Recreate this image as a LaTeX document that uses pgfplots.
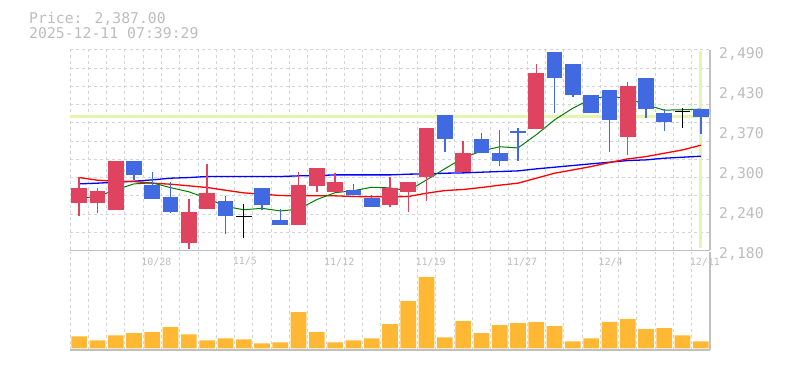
\documentclass[border=0pt]{standalone}
\usepackage{pgfplots}
\pgfplotsset{compat=1.18}
\usepackage{pgfplotstable}
\usepackage{fontspec}
\newfontfamily\mono{DejaVu Sans Mono}
\definecolor{lbl}{HTML}{BDBDBD}
\definecolor{gridc}{HTML}{D4D4D4}
\definecolor{axc}{HTML}{C0C0C0}
\definecolor{cred}{HTML}{E0435F}
\definecolor{cblue}{HTML}{4169E1}
\definecolor{vol}{HTML}{FFB833}
\definecolor{pline}{HTML}{E4F5B0}
\definecolor{magreen}{HTML}{008000}
\definecolor{mared}{HTML}{FF0000}
\definecolor{mablue}{HTML}{0000FF}

% up candles (red)
\pgfplotstableread{
i o h l c
0 2254 2293 2234 2277
1 2253 2277 2238 2272
2 2243 2319 2243 2319
6 2191 2260 2183 2240
7 2244 2313 2244 2269
12 2220 2302 2220 2282
13 2280 2308 2271 2308
14 2271 2300 2271 2286
17 2251 2294 2247 2277
18 2271 2286 2240 2286
19 2293 2370 2257 2370
21 2301 2349 2301 2331
25 2368 2468 2368 2454
30 2355 2441 2327 2434
}\redtab
% down candles (blue)
\pgfplotstableread{
i o h l c
3 2319 2319 2289 2296
4 2281 2302 2259 2259
5 2263 2286 2238 2240
8 2257 2265 2205 2233
10 2277 2277 2242 2251
11 2227 2244 2220 2220
15 2273 2283 2266 2266
16 2261 2266 2247 2247
20 2390 2390 2333 2352
22 2352 2362 2330 2330
23 2331 2366 2310 2319
24 2364 2370 2319 2361
26 2487 2487 2393 2446
27 2468 2468 2418 2420
28 2421 2421 2392 2392
29 2428 2428 2333 2382
31 2447 2447 2385 2399
32 2393 2399 2365 2378
34 2399 2399 2360 2387
}\bluetab
% doji candles
\pgfplotstableread{
i o h l c
9 2233 2252 2200 2233
33 2395 2400 2370 2395
}\dojitab
\pgfplotstableread{
i v
0 2261
1 2263.5
2 2273.8
3 2283
4 2284.6
5 2277.2
6 2270.8
7 2260.8
8 2248.2
9 2243
10 2245.2
11 2241.2
12 2243.8
13 2258.8
14 2269.4
15 2272.4
16 2277.8
17 2276.8
18 2272.4
19 2289.2
20 2306.4
21 2323.2
22 2333.8
23 2340.4
24 2338.6
25 2359
26 2382
27 2400
28 2414.6
29 2418.8
30 2414.8
31 2405.4
32 2397
33 2397.6
34 2398.6
}\magreentab
\pgfplotstableread{
i v
0 2292.8
1 2288.7
2 2287.1
3 2286.6
4 2284.1
5 2282.5
6 2280
7 2277.4
8 2273.2
9 2269.1
10 2267.1
11 2265
12 2264.5
13 2264.5
14 2264.5
15 2263.5
16 2263
17 2263
18 2263.5
19 2268.6
20 2272.7
21 2274.3
22 2277.4
23 2281
24 2284.1
25 2291.8
26 2299.5
27 2304.6
28 2309.8
29 2316
30 2321.6
31 2325.2
32 2330.4
33 2335.5
34 2342.8
}\maredtab
\pgfplotstableread{
i v
0 2283
1 2284.1
2 2285.6
3 2287.1
4 2289.2
5 2291.8
6 2292.8
7 2294.4
8 2294.4
9 2294.4
10 2294.4
11 2294.4
12 2295.4
13 2295.9
14 2296.9
15 2296.9
16 2296.9
17 2296.9
18 2298
19 2298.5
20 2299.5
21 2300
22 2301.1
23 2302.1
24 2303.1
25 2306.2
26 2308.8
27 2311.4
28 2314
29 2316.5
30 2319.1
31 2320.1
32 2322.7
33 2324.2
34 2325.8
}\mabluetab
\pgfplotstableread{
i v
0 12
1 8
2 13
3 15
4 16
5 21
6 14
7 8
8 10
9 9
10 5
11 6
12 36
13 16
14 6
15 8
16 10
17 24
18 47
19 71
20 11
21 27
22 15
23 23
24 25
25 26
26 22
27 7
28 10
29 26
30 29
31 19
32 20
33 13
34 7
}\voltab

\begin{document}
\begin{tikzpicture}
\path[use as bounding box] (0pt,0pt) rectangle (785pt,370pt);

\node[anchor=base west, inner sep=0pt, text=lbl, font=\mono\fontsize{14.8}{16}\selectfont] at (29pt,346.7pt) {Price: 2,387.00};
\node[anchor=base west, inner sep=0pt, text=lbl, font=\mono\fontsize{14.8}{16}\selectfont] at (29pt,331.7pt) {2025-12-11 07:39:29};

% price panel
\begin{axis}[
  at={(70pt,119.5pt)}, anchor=south west, scale only axis,
  width=640pt, height=200.5pt,
  xmin=-0.5, xmax=34.5, ymin=2180, ymax=2490,
  axis x line*=bottom, axis y line*=right,
  axis line style={draw=axc, line width=1.2pt},
  xtick={-0.5,0.5,...,33.5}, xticklabels={},
  ytick={2180,2208.18,2236.36,2264.55,2292.73,2320.91,2349.09,2377.27,2405.45,2433.64,2461.82,2490},
  yticklabels={},
  grid=major,
  major grid style={draw=gridc, line width=1pt, dash pattern=on 3pt off 3pt},
  major tick length=0pt,
  extra x ticks={3.5,8.5,13.5,18.5,23.5,28.5,33.5},
  extra x tick labels={10/28,11/5,11/12,11/19,11/27,12/4,12/11},
  extra x tick style={grid=none, tick label style={anchor=north west, inner sep=0pt, yshift=-7pt, xshift=-2pt, font=\mono\fontsize{10}{11}\selectfont, text=lbl}},
  extra y ticks={2180,2242,2304,2366,2428,2490},
  extra y tick labels={{2,180},{2,240},{2,300},{2,370},{2,430},{2,490}},
  extra y tick style={grid=none, tick label style={anchor=base west, inner sep=0pt, xshift=9pt, yshift=-8.3pt, font=\mono\fontsize{14.8}{16}\selectfont, text=lbl}},
]
\addplot[pline, line width=3.5pt] coordinates {(-0.5,2387) (34.5,2387)};
\addplot[pline, line width=3pt] coordinates {(34,2184) (34,2488)};

\addplot[mablue, line width=1.3pt] table[x=i, y=v] {\mabluetab};
\addplot[mared, line width=1.3pt] table[x=i, y=v] {\maredtab};
\addplot[magreen, line width=1pt] table[x=i, y=v] {\magreentab};

% wicks
\addplot[draw=none, error bars/.cd, y dir=plus, y explicit, error mark=none,
  error bar style={line width=1.3pt, draw=cred}]
  table[x=i, y=l, y error plus expr=\thisrow{h}-\thisrow{l}] {\redtab};
\addplot[draw=none, error bars/.cd, y dir=plus, y explicit, error mark=none,
  error bar style={line width=1.3pt, draw=cblue}]
  table[x=i, y=l, y error plus expr=\thisrow{h}-\thisrow{l}] {\bluetab};
\addplot[draw=none, error bars/.cd, y dir=plus, y explicit, error mark=none,
  error bar style={line width=1.3pt, draw=black}]
  table[x=i, y=l, y error plus expr=\thisrow{h}-\thisrow{l}] {\dojitab};
% bodies
\addplot[draw=none, error bars/.cd, y dir=plus, y explicit, error mark=none,
  error bar style={line width=15.7pt, draw=cred}]
  table[x=i, y=o, y error plus expr=\thisrow{c}-\thisrow{o}] {\redtab};
\addplot[draw=none, error bars/.cd, y dir=plus, y explicit, error mark=none,
  error bar style={line width=15.7pt, draw=cblue}]
  table[x=i, y=c, y error plus expr=\thisrow{o}-\thisrow{c}] {\bluetab};
\addplot[draw=none, error bars/.cd, x dir=both, x fixed=0.43, error mark=none,
  error bar style={line width=1.2pt, draw=black}]
  table[x=i, y=o] {\dojitab};
\end{axis}

% volume panel
\begin{axis}[
  at={(70pt,20pt)}, anchor=south west, scale only axis,
  width=640pt, height=98pt,
  xmin=-0.5, xmax=34.5, ymin=-1.7, ymax=96,
  axis x line*=bottom, axis y line*=right,
  axis line style={draw=axc, line width=1.2pt},
  xtick={-0.5,0.5,...,33.5}, xticklabels={},
  ytick=\empty,
  xmajorgrids,
  major grid style={draw=gridc, line width=1pt, dash pattern=on 3pt off 3pt},
  major tick length=0pt,
  ybar, bar width=15.7pt,
]
\addplot[fill=vol, draw=none] table[x=i, y=v] {\voltab};
\end{axis}
\end{tikzpicture}
\end{document}
